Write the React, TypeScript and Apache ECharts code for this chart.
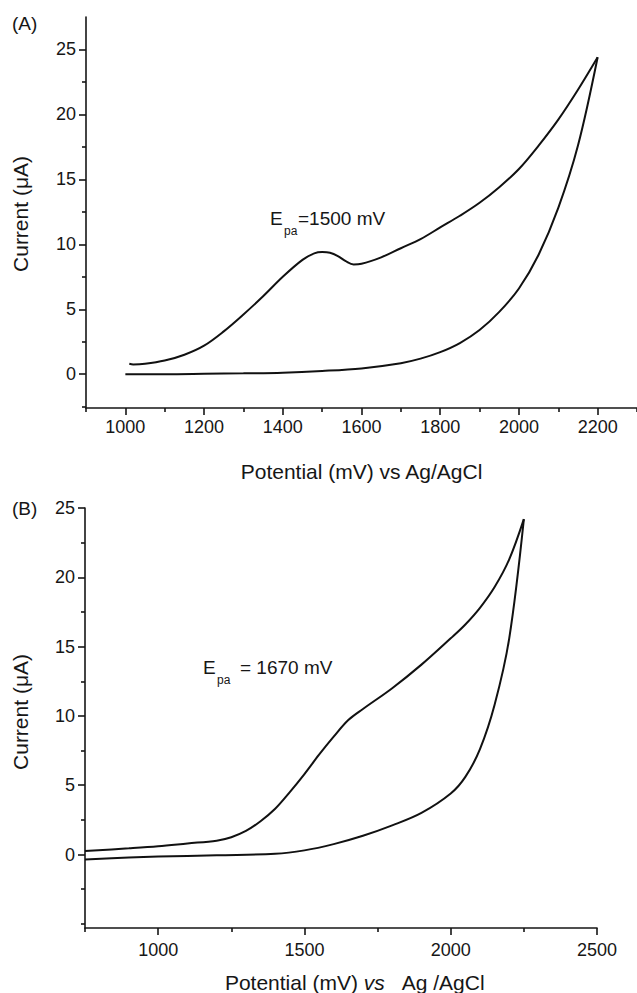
import React, { useEffect, useRef } from "react";
import * as echarts from "echarts";

// Panel A — cyclic voltammogram
const potentialA_fwd = [1000, 1100, 1200, 1300, 1400, 1500, 1600, 1700, 1750, 1800, 1850, 1900, 1950, 2000, 2050, 2100, 2150, 2200];
const currentA_fwd = [0.0, 0.0, 0.03, 0.07, 0.12, 0.25, 0.45, 0.85, 1.2, 1.7, 2.4, 3.4, 4.8, 6.6, 9.2, 12.8, 17.6, 24.4];
const potentialA_rev = [2200, 2150, 2100, 2050, 2000, 1950, 1900, 1850, 1800, 1750, 1700, 1650, 1600, 1580, 1560, 1540, 1520, 1500, 1480, 1450, 1400, 1350, 1300, 1250, 1200, 1150, 1100, 1050, 1020, 1010];
const currentA_rev = [24.4, 21.9, 19.6, 17.6, 15.8, 14.4, 13.2, 12.2, 11.3, 10.4, 9.7, 9.0, 8.5, 8.45, 8.7, 9.1, 9.35, 9.4, 9.3, 8.8, 7.5, 6.0, 4.6, 3.3, 2.2, 1.5, 1.05, 0.8, 0.75, 0.8];

// Panel B — cyclic voltammogram
const potentialB_fwd = [750, 900, 1000, 1200, 1400, 1500, 1600, 1700, 1800, 1900, 2000, 2050, 2100, 2150, 2200, 2250];
const currentB_fwd = [-0.35, -0.22, -0.15, -0.05, 0.05, 0.3, 0.75, 1.35, 2.1, 3.0, 4.4, 5.6, 7.6, 10.8, 15.6, 24.2];
const potentialB_rev = [2250, 2200, 2150, 2100, 2050, 2000, 1900, 1800, 1700, 1650, 1600, 1550, 1500, 1450, 1400, 1350, 1300, 1250, 1200, 1100, 1000, 900, 750];
const currentB_rev = [24.2, 21.3, 19.3, 17.8, 16.6, 15.6, 13.7, 12.0, 10.5, 9.7, 8.5, 7.2, 5.8, 4.5, 3.3, 2.4, 1.7, 1.25, 1.0, 0.8, 0.6, 0.45, 0.25];

// Tick values
const yMajorTicks = [0, 5, 10, 15, 20, 25];
const yMinorTicksA = [-2.5, 2.5, 7.5, 12.5, 17.5, 22.5];
const yMinorTicksB = [-5, -2.5, 2.5, 7.5, 12.5, 17.5, 22.5];
const xMajorTicksA = [1000, 1200, 1400, 1600, 1800, 2000, 2200];
const xMinorTicksA = [900, 1100, 1300, 1500, 1700, 1900, 2100, 2300];
const xMajorTicksB = [1000, 1500, 2000, 2500];
const xMinorTicksB = [750, 1250, 1750, 2250];

const xTitleA = "Potential (mV) vs Ag/AgCl";
const yTitle = "Current (\u03bcA)";

const FONT = "'Liberation Sans', Arial, Helvetica, sans-serif";
const INK = "#161616";

const zip = (xs: number[], ys: number[]) => xs.map((x, i) => [x, ys[i]]);

function majorAxis(kind: "x" | "y", grid: number, min: number, max: number, ticks: number[], margin: number, extra: any = {}) {
  return {
    type: "value",
    gridIndex: grid,
    min,
    max,
    position: kind === "x" ? "bottom" : "left",
    axisLine: { show: true, onZero: false, lineStyle: { color: INK, width: 1.6 } },
    axisTick: { show: true, customValues: ticks, length: 7, lineStyle: { color: INK, width: 1.6 } },
    axisLabel: {
      show: true, customValues: ticks, fontSize: 18, color: INK, fontFamily: FONT, margin,
      formatter: (v: number) => String(v),
    },
    splitLine: { show: false },
    ...extra,
  };
}

function minorAxis(kind: "x" | "y", grid: number, min: number, max: number, ticks: number[]) {
  return {
    type: "value",
    gridIndex: grid,
    min,
    max,
    position: kind === "x" ? "bottom" : "left",
    axisLine: { show: false, onZero: false },
    axisTick: { show: true, customValues: ticks, length: 4, lineStyle: { color: INK, width: 1.6 } },
    axisLabel: { show: false },
    splitLine: { show: false },
  };
}

function lineSeries(x: number, y: number, data: number[][]) {
  return {
    type: "line",
    xAxisIndex: x,
    yAxisIndex: y,
    data,
    smooth: 0.35,
    showSymbol: false,
    symbol: "none",
    lineStyle: { color: "#111", width: 2 },
    clip: true,
  };
}

export default function App() {
  const ref = useRef<HTMLDivElement>(null);
  useEffect(() => {
    if (!ref.current) return;
    const chart = echarts.init(ref.current, null, { renderer: "svg" });
    const option: any = {
      animation: false,
      backgroundColor: "#ffffff",
      textStyle: { fontFamily: FONT },
      grid: [
        { left: 86, top: 17, width: 551, height: 391 },
        { left: 85, top: 508, width: 512, height: 420 },
      ],
      xAxis: [
        majorAxis("x", 0, 900, 2300, xMajorTicksA, 10, {
          name: xTitleA,
          nameLocation: "middle",
          nameGap: 53,
          nameTextStyle: { fontSize: 21, color: INK, fontFamily: FONT },
        }),
        minorAxis("x", 0, 900, 2300, xMinorTicksA),
        majorAxis("x", 1, 750, 2500, xMajorTicksB, 13),
        minorAxis("x", 1, 750, 2500, xMinorTicksB),
      ],
      yAxis: [
        majorAxis("y", 0, -2.6, 27.5, yMajorTicks, 10),
        minorAxis("y", 0, -2.6, 27.5, yMinorTicksA),
        majorAxis("y", 1, -5.3, 25, yMajorTicks, 10),
        minorAxis("y", 1, -5.3, 25, yMinorTicksB),
      ],
      series: [
        lineSeries(0, 0, zip(potentialA_fwd, currentA_fwd)),
        lineSeries(0, 0, zip(potentialA_rev, currentA_rev)),
        lineSeries(2, 2, zip(potentialB_fwd, currentB_fwd)),
        lineSeries(2, 2, zip(potentialB_rev, currentB_rev)),
      ],
      graphic: [
        { type: "text", left: 12, top: 14, style: { text: "(A)", fontSize: 19, fill: INK, fontFamily: FONT } },
        { type: "text", left: 12, top: 499, style: { text: "(B)", fontSize: 19, fill: INK, fontFamily: FONT } },
        {
          type: "text", x: 20, y: 214, rotation: Math.PI / 2,
          style: { text: yTitle, fontSize: 21, fill: INK, fontFamily: FONT, align: "center", verticalAlign: "middle" },
        },
        {
          type: "text", x: 20, y: 712, rotation: Math.PI / 2,
          style: { text: yTitle, fontSize: 21, fill: INK, fontFamily: FONT, align: "center", verticalAlign: "middle" },
        },
        {
          type: "text", x: 355, y: 982,
          style: {
            text: "{n|Potential (mV) }{i|vs}{n|   Ag /AgCl}",
            align: "center", verticalAlign: "middle",
            rich: {
              n: { fontSize: 21, fill: INK, fontFamily: FONT },
              i: { fontSize: 21, fill: INK, fontFamily: FONT, fontStyle: "italic" },
            },
          },
        },
        { type: "text", x: 270, y: 218, style: { text: "E", fontSize: 19, fill: INK, fontFamily: FONT, verticalAlign: "middle" } },
        { type: "text", x: 284, y: 231, style: { text: "pa", fontSize: 12, fill: INK, fontFamily: FONT, verticalAlign: "middle" } },
        { type: "text", x: 298, y: 218, style: { text: "=1500 mV", fontSize: 19, fill: INK, fontFamily: FONT, verticalAlign: "middle" } },
        { type: "text", x: 203, y: 667, style: { text: "E", fontSize: 19, fill: INK, fontFamily: FONT, verticalAlign: "middle" } },
        { type: "text", x: 217, y: 680, style: { text: "pa", fontSize: 12, fill: INK, fontFamily: FONT, verticalAlign: "middle" } },
        { type: "text", x: 240, y: 667, style: { text: "= 1670 mV", fontSize: 19, fill: INK, fontFamily: FONT, verticalAlign: "middle" } },
      ],
    };
    chart.setOption(option);
    return () => chart.dispose();
  }, []);
  return (
    <div
      ref={ref}
      style={{ position: "absolute", left: 0, top: 0, width: 637, height: 993, background: "#fff" }}
    />
  );
}
